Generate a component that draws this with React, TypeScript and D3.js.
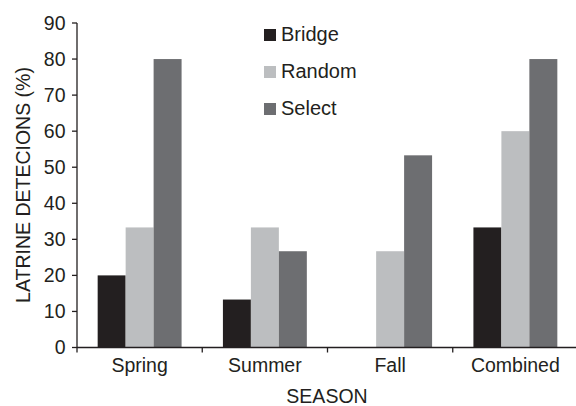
import React from 'react';
import * as d3 from 'd3';

const categories = ['Spring', 'Summer', 'Fall', 'Combined'];
const seriesNames = ['Bridge', 'Random', 'Select'];
const bridge = [20, 13.3, 0, 33.3];
const random = [33.3, 33.3, 26.7, 60];
const select = [80, 26.7, 53.3, 80];
const yTicks = [0, 10, 20, 30, 40, 50, 60, 70, 80, 90];

const colors = ['#231f20', '#bcbec0', '#6d6e71'];

const W = 576;
const H = 406;
const margin = { top: 23, left: 77, bottom: 58.5, right: -2 };
const font = 'Liberation Sans, Arial, Helvetica, sans-serif';

const App: React.FC = () => {
    const values = [bridge, random, select];

    const x0 = d3.scaleBand<string>()
        .domain(categories)
        .range([margin.left, W - margin.right])
        .padding(0);

    const groupWidth = x0.bandwidth() * 0.67;
    const x1 = d3.scaleBand<string>()
        .domain(seriesNames)
        .range([(x0.bandwidth() - groupWidth) / 2, (x0.bandwidth() + groupWidth) / 2])
        .padding(0);

    const y = d3.scaleLinear()
        .domain([0, 90])
        .range([H - margin.bottom, margin.top]);

    const y0 = y(0);
    const boundaries = categories.map(c => x0(c) as number);

    return (
        <svg width={W} height={H} style={{ position: 'absolute', left: 0, top: 0, background: '#fff' }}
            fontFamily={font}>
            {/* bars */}
            {categories.map((c, i) => (
                <g key={c} transform={`translate(${x0(c)},0)`}>
                    {seriesNames.map((s, j) => {
                        const v = values[j][i];
                        if (!v) return null;
                        return (
                            <rect key={s} x={x1(s)} y={y(v)} width={x1.bandwidth()}
                                height={y0 - y(v)} fill={colors[j]} />
                        );
                    })}
                </g>
            ))}

            {/* y axis */}
            <line x1={margin.left} x2={margin.left} y1={y(90)} y2={y0 + 5} stroke="#231f20" strokeWidth={1.3} />
            {yTicks.map(t => (
                <g key={t}>
                    <line x1={margin.left - 5} x2={margin.left} y1={y(t)} y2={y(t)} stroke="#231f20" strokeWidth={1.3} />
                    <text x={margin.left - 11.5} y={y(t)} dy="0.35em" textAnchor="end" fontSize={19.5} fill="#231f20">{t}</text>
                </g>
            ))}

            {/* x axis */}
            <line x1={margin.left} x2={W} y1={y0} y2={y0} stroke="#231f20" strokeWidth={1.3} />
            {boundaries.slice(1).map((b, i) => (
                <line key={i} x1={b} x2={b} y1={y0} y2={y0 + 5} stroke="#231f20" strokeWidth={1.3} />
            ))}
            {categories.map(c => (
                <text key={c} x={(x0(c) as number) + x0.bandwidth() / 2} y={372} textAnchor="middle"
                    fontSize={19.5} fill="#231f20">{c}</text>
            ))}

            {/* axis titles */}
            <text x={327} y={403} textAnchor="middle" fontSize={19.5} fill="#231f20">SEASON</text>
            <text transform={`translate(29.5,185) rotate(-90)`} textAnchor="middle" fontSize={19.5} fill="#231f20">
                LATRINE DETECIONS (%)
            </text>

            {/* legend */}
            {seriesNames.map((s, j) => (
                <g key={s} transform={`translate(264,${41 + j * 37})`}>
                    <rect x={0} y={-12} width={12} height={12} fill={colors[j]} />
                    <text x={17} y={0} fontSize={20} fill="#231f20">{s}</text>
                </g>
            ))}
        </svg>
    );
};

export default App;
